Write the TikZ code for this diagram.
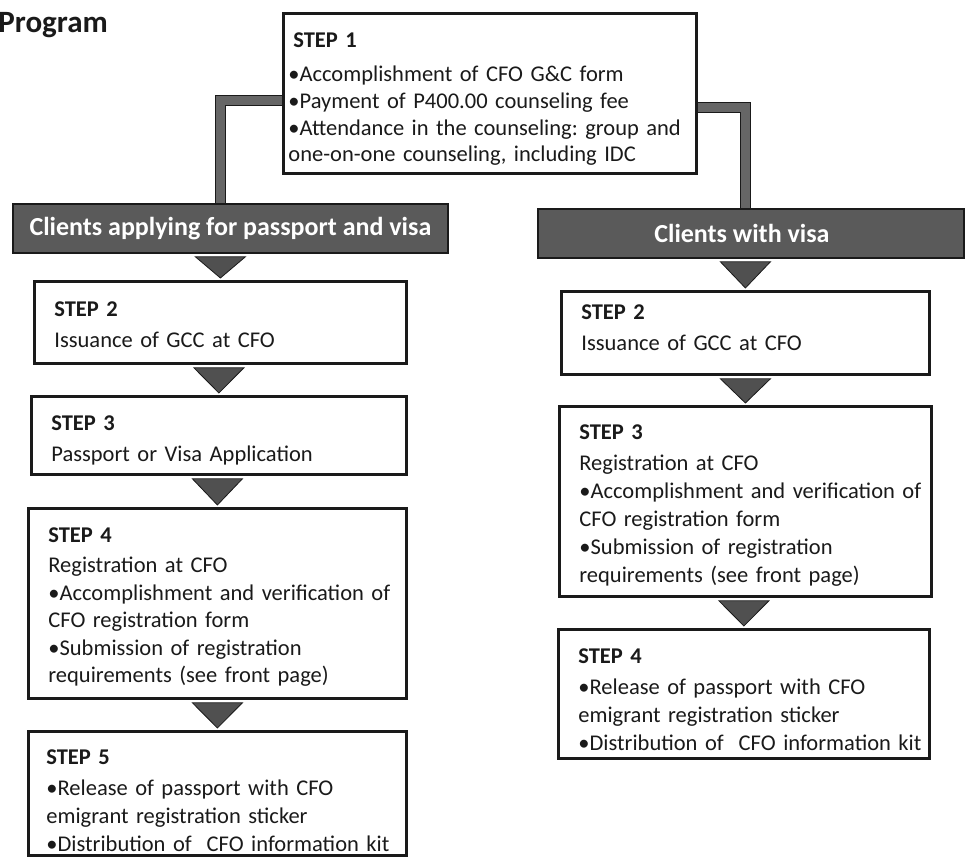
\documentclass[tikz,border=0pt]{standalone}
\usepackage{fontspec}
\setmainfont{Carlito}
\usetikzlibrary{calc}
\pgfdeclarelayer{bg}
\pgfsetlayers{bg,main}
\definecolor{ink}{HTML}{1A1A1A}
\definecolor{bannergray}{HTML}{5A5A5A}
\definecolor{trigray}{HTML}{505050}
\definecolor{bargray}{HTML}{666666}
\newcommand{\Ln}[1]{\mbox{#1}}
\newcommand{\TopS}[1]{\rule{0pt}{#1pt}}
\newcommand{\BotS}[1]{\rule[-#1pt]{0pt}{#1pt}}
\tikzset{
 stepbox/.style={draw=ink, line width=2.8pt, fill=white, anchor=north west, align=left,
   inner ysep=0pt, inner xsep=20pt, text=ink, font=\fontsize{22.5pt}{28pt}\selectfont\frenchspacing},
 banner/.style={draw=ink, line width=1.8pt, fill=bannergray, anchor=north west, text=white,
   font=\fontsize{26pt}{30pt}\selectfont\bfseries, inner sep=0pt},
 tri/.style={fill=trigray, draw=ink, line width=0.8pt, line join=miter},
 bar/.style={draw=ink, line width=1.6pt, double=bargray, double distance=8.5pt},
}
\begin{document}
\begin{tikzpicture}[x=1pt,y=-1pt]
\useasboundingbox (0,0) rectangle (968,856);
\clip (0,0) rectangle (968,856);
\node[anchor=base east, font=\fontsize{31pt}{36pt}\selectfont\bfseries, text=ink, inner sep=0pt] (title) at (108,33) {Program};

\node[stepbox, minimum width=413, minimum height=160, text width=403, inner xsep=5pt,
  font=\fontsize{22.5pt}{26.7pt}\selectfont\frenchspacing] (S1) at (282,12)
 {\TopS{26}\hspace{5pt}\textbf{STEP 1}\\[8pt]\Ln{•Accomplishment of CFO G\&C form}\\\Ln{•Payment of P400.00 counseling fee}\\\Ln{•Attendance in the counseling: group and}\\\Ln{one-on-one counseling, including IDC}};

\node[banner, minimum width=435, minimum height=49] (LB) at (12,203) {Clients applying for passport and visa};
\node[banner, minimum width=426, minimum height=49] (RB) at (537,208) {Clients with visa\hspace*{18pt}};

\node[stepbox, minimum width=372, minimum height=82, text width=332] (L2) at (33,280)
 {\TopS{19}\textbf{STEP 2}\\[3pt]\Ln{Issuance of GCC at CFO}};
\node[stepbox, minimum width=375, minimum height=78, text width=335] (L3) at (30,395)
 {\TopS{24.5}\textbf{STEP 3}\\[3pt]\Ln{Passport or Visa Application}};
\node[stepbox, minimum width=378, minimum height=190, text width=338,
  font=\fontsize{22.5pt}{27.5pt}\selectfont\frenchspacing] (L4) at (27,507)
 {\TopS{22}\textbf{STEP 4}\\[3pt]\Ln{Registration at CFO}\\\Ln{•Accomplishment and verification of}\\\Ln{CFO registration form}\\\Ln{•Submission of registration}\\\Ln{requirements (see front page)}};
\node[stepbox, minimum width=378, minimum height=124, text width=342, inner xsep=18pt] (L5) at (27,730)
 {\TopS{29}\textbf{STEP 5}\\[3pt]\Ln{•Release of passport with CFO}\\\Ln{emigrant registration sticker}\\\Ln{•Distribution of~ CFO information kit}};

\node[stepbox, minimum width=368, minimum height=83, text width=328] (R2) at (560,290)
 {\TopS{20}\textbf{STEP 2}\\[3pt]\Ln{Issuance of GCC at CFO}\BotS{16}};
\node[stepbox, minimum width=372, minimum height=190, text width=332] (R3) at (558,405)
 {\TopS{22.5}\textbf{STEP 3}\\[3pt]\Ln{Registration at CFO}\\\Ln{•Accomplishment and verification of}\\\Ln{CFO registration form}\\\Ln{•Submission of registration}\\\Ln{requirements (see front page)}};
\node[stepbox, minimum width=371, minimum height=129, text width=331] (R4) at (557,628)
 {\TopS{26}\textbf{STEP 4}\\[3pt]\Ln{•Release of passport with CFO}\\\Ln{emigrant registration sticker}\\\Ln{•Distribution of~ CFO information kit}};

\foreach \a/\b in {LB/L2, L2/L3, L3/L4, L4/L5, RB/R2, R2/R3, R3/R4}
  \filldraw[tri] ($(\a.south -| \b.north)+(-25,3)$) -- ($(\a.south -| \b.north)+(25,3)$) -- ($(\b.north)+(0,-2)$) -- cycle;

\begin{pgfonlayer}{bg}
\fill[white] (0,0) rectangle (968,856);
\draw[bar] ($(S1.west)+(6,7)$) -| ($(L2.north |- LB.north)+(0,8)$);
\draw[bar] ($(S1.east)+(-6,14)$) -| ($(R2.north |- RB.north)+(0,8)$);
\end{pgfonlayer}
\end{tikzpicture}
\end{document}
